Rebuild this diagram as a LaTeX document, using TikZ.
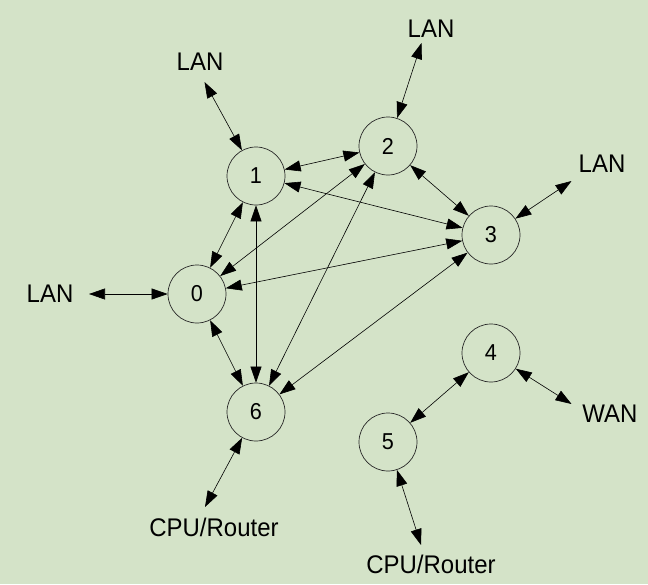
\documentclass[tikz,border=0pt]{standalone}
\usepackage{fontspec}
\setmainfont{Liberation Sans}
\usetikzlibrary{arrows.meta}
\definecolor{bg}{RGB}{212,227,200}
\newcommand\sqtext[1]{\scalebox{0.94}[1]{#1}}
\begin{document}
\begin{tikzpicture}[x=1pt,y=-1pt,
  router/.style={circle,draw=black!85,line width=0.7pt,fill=bg,minimum size=58pt,inner sep=0pt,font=\fontsize{23}{26}\selectfont},
  lbl/.style={font=\fontsize{25.5}{30}\selectfont,inner sep=0pt},
  link/.style={{Triangle[length=16pt,width=11pt]}-{Triangle[length=16pt,width=11pt]},line width=0.6pt,black}]
\fill[bg] (0,0) rectangle (648,584);
\useasboundingbox (0,0) rectangle (648,584);

% routers
\node[router] (n0) at (197,294) {\sqtext{0}};
\node[router] (n1) at (256,176) {\sqtext{1}};
\node[router] (n2) at (388,146) {\sqtext{2}};
\node[router] (n3) at (491,235) {\sqtext{3}};
\node[router] (n4) at (491,353) {\sqtext{4}};
\node[router] (n5) at (388,442) {\sqtext{5}};
\node[router] (n6) at (256,412) {\sqtext{6}};

% labels
\node[lbl] (l1) at (200,62) {\sqtext{LAN}};
\node[lbl] (l2) at (431,29) {\sqtext{LAN}};
\node[lbl] (l3) at (602,164) {\sqtext{LAN}};
\node[lbl] (l0) at (50,294) {\sqtext{LAN}};
\node[lbl] (wan) at (610,414) {\sqtext{WAN}};
\node[lbl] (cpu6) at (214,527) {\sqtext{CPU/Router}};
\node[lbl] (cpu5) at (431,564) {\sqtext{CPU/Router}};

% free ends
\coordinate (e1) at (204.5,82);
\coordinate (e2) at (421.5,43);
\coordinate (e3) at (571.5,181);
\coordinate (e0) at (89,294);
\coordinate (ew) at (571.5,404);
\coordinate (e6) at (205,507);
\coordinate (e5) at (421,545);

% external links
\draw[link] (e1) -- (n1);
\draw[link] (e2) -- (n2);
\draw[link] (e3) -- (n3);
\draw[link] (e0) -- (n0);
\draw[link] (ew) -- (n4);
\draw[link] (e6) -- (n6);
\draw[link] (e5) -- (n5);

% internal links
\draw[link] (n1) -- (n2);
\draw[link] (n1) -- (n3);
\draw[link] (n2) -- (n3);
\draw[link] (n0) -- (n1);
\draw[link] (n0) -- (n2);
\draw[link] (n0) -- (n3);
\draw[link] (n0) -- (n6);
\draw[link] (n1) -- (n6);
\draw[link] (n2) -- (n6);
\draw[link] (n3) -- (n6);
\draw[link] (n4) -- (n5);
\end{tikzpicture}
\end{document}
